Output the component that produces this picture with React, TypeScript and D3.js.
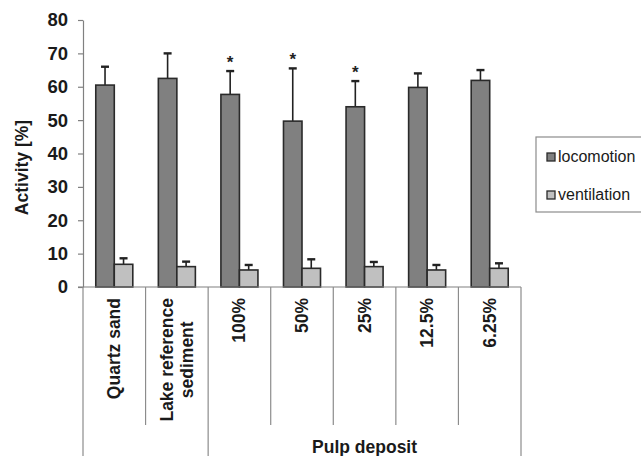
import React, { useRef, useEffect } from "react";
import * as d3 from "d3";

// ── Data ──────────────────────────────────────────────────────────────────────

const CATEGORIES: string[][] = [
  ["Quartz sand"],
  ["Lake reference", "sediment"],
  ["100%"],
  ["50%"],
  ["25%"],
  ["12.5%"],
  ["6.25%"],
];

// group label per category ("" = no group)
const GROUPS = ["", "", "Pulp deposit", "Pulp deposit", "Pulp deposit", "Pulp deposit", "Pulp deposit"];

const LOCOMOTION = [60.5, 62.5, 57.7, 49.7, 54.0, 59.8, 61.9];
const LOCOMOTION_SD = [5.5, 7.5, 7.0, 15.8, 7.7, 4.2, 3.1];
const VENTILATION = [6.8, 6.1, 5.1, 5.6, 6.1, 5.1, 5.6];
const VENTILATION_SD = [1.8, 1.5, 1.5, 2.7, 1.4, 1.5, 1.5];
const SIGNIFICANT = [false, false, true, true, true, false, false];

const Y_TICKS = [0, 10, 20, 30, 40, 50, 60, 70, 80];

const SERIES = [
  { key: "locomotion", label: "locomotion", values: LOCOMOTION, sd: LOCOMOTION_SD, color: "#808080" },
  { key: "ventilation", label: "ventilation", values: VENTILATION, sd: VENTILATION_SD, color: "#c0c0c0" },
];

// ── Chart ─────────────────────────────────────────────────────────────────────

const W = 641;
const H = 456;
const FONT = "'Liberation Sans', Arial, sans-serif";

export default function App() {
  const svgRef = useRef<SVGSVGElement>(null);

  useEffect(() => {
    document.body.style.margin = "0";
    if (!svgRef.current) return;
    const svg = d3.select(svgRef.current);
    svg.selectAll("*").remove();

    const left = 83;
    const right = 521;
    const top = 20;
    const bottom = 287;

    const x = d3
      .scaleBand<number>()
      .domain(CATEGORIES.map((_, i) => i))
      .range([left, right])
      .padding(0);

    const xInner = d3
      .scaleBand<string>()
      .domain(SERIES.map((s) => s.key))
      .range([0, x.bandwidth()])
      .paddingInner(0)
      .paddingOuter(0.69);

    const y = d3.scaleLinear().domain([0, 80]).range([bottom, top]);

    // Bars + error bars
    SERIES.forEach((s) => {
      const g = svg.append("g");
      s.values.forEach((v, i) => {
        const bx = (x(i) ?? 0) + (xInner(s.key) ?? 0);
        const bw = xInner.bandwidth();
        const cx = bx + bw / 2;
        const errTop = y(v + s.sd[i]);
        g.append("line")
          .attr("x1", cx)
          .attr("x2", cx)
          .attr("y1", y(v))
          .attr("y2", errTop)
          .attr("stroke", "#222")
          .attr("stroke-width", 1.6);
        g.append("line")
          .attr("x1", cx - 4)
          .attr("x2", cx + 4)
          .attr("y1", errTop)
          .attr("y2", errTop)
          .attr("stroke", "#222")
          .attr("stroke-width", 2.4);
        g.append("rect")
          .attr("x", bx)
          .attr("y", y(v))
          .attr("width", bw)
          .attr("height", y(0) - y(v))
          .attr("fill", s.color)
          .attr("stroke", "#2a2a2a")
          .attr("stroke-width", 1.6);
        if (s.key === "locomotion" && SIGNIFICANT[i]) {
          g.append("text")
            .attr("x", cx)
            .attr("y", errTop - 3)
            .attr("text-anchor", "middle")
            .attr("font-family", FONT)
            .attr("font-weight", "bold")
            .attr("font-size", 17)
            .attr("fill", "#222")
            .text("*");
        }
      });
    });

    // Y axis
    const yAxis = svg
      .append("g")
      .attr("transform", `translate(${left},0)`)
      .call(d3.axisLeft(y).tickValues(Y_TICKS).tickSize(5).tickSizeOuter(0).tickPadding(10));
    yAxis.select(".domain").attr("stroke", "#808080").attr("stroke-width", 1.2);
    yAxis.selectAll(".tick line").attr("stroke", "#808080").attr("stroke-width", 1.2);
    yAxis
      .selectAll(".tick text")
      .attr("fill", "#1a1a1a")
      .attr("font-family", FONT)
      .attr("font-weight", "bold")
      .attr("font-size", 18.5);

    // X axis line
    svg
      .append("line")
      .attr("x1", left - 5)
      .attr("x2", right)
      .attr("y1", bottom)
      .attr("y2", bottom)
      .attr("stroke", "#808080")
      .attr("stroke-width", 1.2);

    // Category dividers: long where the group changes, short inside a group
    d3.range(CATEGORIES.length + 1).forEach((k) => {
      const xe = k < CATEGORIES.length ? x(k) ?? 0 : right;
      const groupEdge = k === 0 || k === CATEGORIES.length || GROUPS[k] !== GROUPS[k - 1];
      svg
        .append("line")
        .attr("x1", xe)
        .attr("x2", xe)
        .attr("y1", bottom)
        .attr("y2", groupEdge ? H : 425)
        .attr("stroke", "#8c8c8c")
        .attr("stroke-width", 1.2);
    });

    // Category labels (rotated)
    CATEGORIES.forEach((lines, i) => {
      const cx = (x(i) ?? 0) + x.bandwidth() / 2;
      const gap = 20;
      const texts = lines.map((line, j) => {
        const lx = cx + (j - (lines.length - 1) / 2) * gap + 6;
        return svg
          .append("text")
          .attr("transform", `translate(${lx},298) rotate(-90)`)
          .attr("text-anchor", "end")
          .attr("font-family", FONT)
          .attr("font-weight", "bold")
          .attr("font-size", 17.5)
          .attr("fill", "#1a1a1a")
          .text(line);
      });
      if (texts.length > 1) {
        const lens = texts.map((t) => (t.node() as SVGTextElement).getComputedTextLength());
        const maxLen = d3.max(lens) ?? 0;
        texts.forEach((t, j) => {
          const lx = cx + (j - (lines.length - 1) / 2) * gap + 6;
          t.attr("text-anchor", "middle").attr("transform", `translate(${lx},${298 + maxLen / 2}) rotate(-90)`);
        });
      }
    });

    // Group labels
    const groupNames = Array.from(new Set(GROUPS.filter((g) => g !== "")));
    groupNames.forEach((name) => {
      const idx = GROUPS.map((g, i) => (g === name ? i : -1)).filter((i) => i >= 0);
      const x0 = x(idx[0]) ?? 0;
      const x1 = (x(idx[idx.length - 1]) ?? 0) + x.bandwidth();
      svg
        .append("text")
        .attr("x", (x0 + x1) / 2)
        .attr("y", 453)
        .attr("text-anchor", "middle")
        .attr("font-family", FONT)
        .attr("font-weight", "bold")
        .attr("font-size", 17.5)
        .attr("fill", "#1a1a1a")
        .text(name);
    });

    // Y axis title
    svg
      .append("text")
      .attr("transform", `translate(28,${(top + bottom) / 2 + 14}) rotate(-90)`)
      .attr("text-anchor", "middle")
      .attr("font-family", FONT)
      .attr("font-weight", "bold")
      .attr("font-size", 17.5)
      .attr("fill", "#1a1a1a")
      .text("Activity [%]");

    // Legend
    const lg = svg.append("g").attr("transform", "translate(536,137)");
    lg.append("rect")
      .attr("width", 110)
      .attr("height", 75)
      .attr("fill", "#fff")
      .attr("stroke", "#8c8c8c")
      .attr("stroke-width", 1.2);
    SERIES.forEach((s, i) => {
      const row = lg.append("g").attr("transform", `translate(11,${16 + i * 38})`);
      row.append("rect")
        .attr("width", 8)
        .attr("height", 8)
        .attr("fill", s.color)
        .attr("stroke", "#2a2a2a")
        .attr("stroke-width", 1.3);
      row.append("text")
        .attr("x", 11)
        .attr("y", 8.5)
        .attr("font-family", FONT)
        .attr("font-size", 16)
        .attr("fill", "#1a1a1a")
        .text(s.label);
    });
  }, []);

  return (
    <svg
      ref={svgRef}
      width={W}
      height={H}
      style={{ display: "block", background: "#fff" }}
    />
  );
}
